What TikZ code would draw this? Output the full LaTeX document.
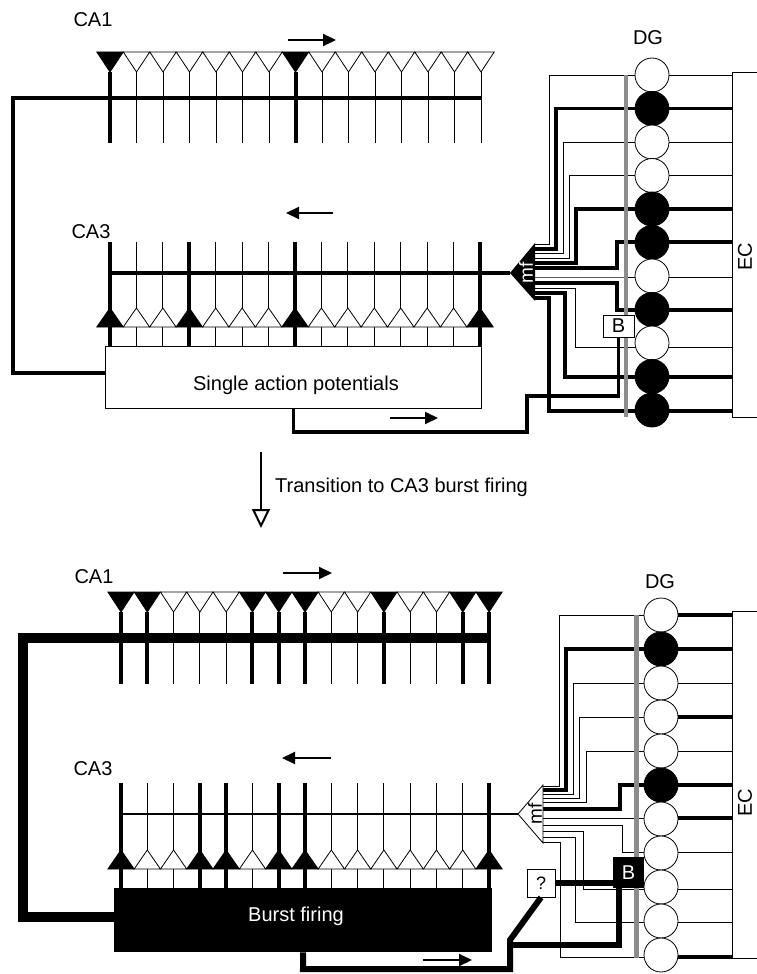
\documentclass[tikz,border=0pt]{standalone}
\usepackage{fontspec}
\setmainfont{Liberation Sans}
\usetikzlibrary{arrows.meta}
\tikzset{
  cell f/.style={draw=black, fill=black, line width=0.8pt},
  cell o/.style={draw=black, fill=white, line width=0.8pt},
  stem f/.style={line width=4pt},
  stem o/.style={line width=0.9pt},
  wire f/.style={line width=3.4pt},
  wire o/.style={line width=0.8pt},
  dir arrow/.style={line width=2pt, -{Triangle[length=13pt, width=12pt]}},
  lbl/.style={font=\fontsize{20}{24}\selectfont, inner sep=0pt, anchor=base},
  band/.style={line width=3.5pt, black!45},
}
\begin{document}
\begin{tikzpicture}[x=1pt, y=-1pt]
  \useasboundingbox (0,0) rectangle (757,974);

  % single action potentials
  \node[lbl] (ca1a) at (93,27) {CA1};
  \node[lbl] (ca3a) at (91,238) {CA3};
  \draw[dir arrow] (288,40) -- (336,40);
  \draw[dir arrow] (333,213) -- (286,213);
  \coordinate (mfA) at (510,273);
  \draw[line width=3.5pt] (110,273) -- (mfA);
  \foreach \s [count=\i from 0] in {f,o,o,o,o,o,o,f,o,o,o,o,o,o,o} {
    \pgfmathsetmacro\xx{110+26.5*\i}
    \draw[stem \s] (\xx,72) -- (\xx,143);
    \draw[cell \s] (\xx-13.2,52) -- (\xx+13.2,52) -- (\xx,72) -- cycle;
  }
  \foreach \s [count=\i from 0] in {f,o,o,f,o,o,o,f,o,o,o,o,o,o,f} {
    \pgfmathsetmacro\xx{110+26.43*\i}
    \draw[stem \s] (\xx,242) -- (\xx,346);
    \draw[cell \s] (\xx-13.2,327) -- (\xx+13.2,327) -- (\xx,308) -- cycle;
  }
  \node[draw, fill=white, line width=0.8pt, minimum width=376pt, minimum height=62pt,
        inner sep=0pt, anchor=north west] (sap) at (105,346) {};
  \node[lbl] at (296,390) {Single action potentials};
  \draw[line width=3.5pt] (481,98) -- (13,98) -- (13,373) -- (sap.west |- 0,373);

  \foreach \s/\ec/\my/\rx/\wy [count=\i from 0] in {o/o/244/549/75, f/f/249/556/108.5,
      o/o/253.5/563/142, o/o/258/569/175, f/f/263/576/209, f/f/268/617/242,
      o/o/277/600/277, f/f/283/617/310, o/o/288/575/347, f/f/293/565/377, f/f/298/549/411} {
    \draw[wire \s] (535,\my) -- (\rx,\my) -- (\rx,\wy) -- (652,\wy);
    \draw[wire \ec] (652,\wy) -- (732,\wy);
  }
  \draw[band] (626,75) -- (626,417);
  \foreach \s [count=\i from 0] in {o,f,o,o,f,f,o,f,o,f,f}
    \node[circle, cell \s, minimum size=34pt, inner sep=0pt] (dgA\i) at (652,75+33.5*\i) {};
  \node[lbl] (dga) at (648,45) {DG};
  \draw[line width=0.8pt] (757,72) -- (732,72) -- (732,417) -- (757,417);
  \node[lbl, anchor=center, rotate=90] (eca) at (745,257) {EC};

  \fill (mfA) -- (535,243) -- (535,301) -- cycle;
  \node[rotate=90, text=white, inner sep=0pt, font=\fontsize{19}{20}\selectfont] (mfa) at (526,273) {mf};
  \node[draw, fill=white, line width=0.8pt, minimum width=31pt, minimum height=22pt,
        inner sep=0pt, font=\fontsize{20}{22}\selectfont] (bA) at (618.5,326) {B};
  \draw[line width=3.4pt] (sap.south) -- ++(0,23) -| (527,396) -| (bA.south);
  \draw[dir arrow] (390,418) -- (438,418);

  % transition
  \draw[line width=2pt, -{Triangle[open, length=19pt, width=18pt, fill=white]}] (261,452) -- (261,528);
  \node[lbl, anchor=base west] (trans) at (275,492) {Transition to CA3 burst firing};

  % burst firing
  \node[lbl] (ca1b) at (94,583) {CA1};
  \node[lbl] (ca3b) at (93,775) {CA3};
  \draw[dir arrow] (283,573) -- (332,573);
  \draw[dir arrow] (331,758) -- (282,758);
  \coordinate (mfB) at (518,814);
  \draw[line width=1.5pt] (121,814) -- (mfB);
  \foreach \s [count=\i from 0] in {f,f,o,o,o,f,f,f,o,o,f,o,o,f,f} {
    \pgfmathsetmacro\xx{121+26.29*\i}
    \draw[stem \s, stem f/.style={line width=5pt}] (\xx,612) -- (\xx,684);
    \draw[cell \s] (\xx-13.1,592) -- (\xx+13.1,592) -- (\xx,612) -- cycle;
  }
  \foreach \s [count=\i from 0] in {f,o,o,f,f,o,f,f,o,o,o,o,o,o,f} {
    \pgfmathsetmacro\xx{121+26.29*\i}
    \draw[stem \s, stem f/.style={line width=4.5pt}] (\xx,783) -- (\xx,888);
    \draw[cell \s] (\xx-13.1,869) -- (\xx+13.1,869) -- (\xx,850) -- cycle;
  }
  \node[fill=black, minimum width=378pt, minimum height=64pt, inner sep=0pt,
        anchor=north west] (bf) at (114,888) {};
  \node[lbl, text=white] at (296,921) {Burst firing};
  \draw[line width=10pt] (489,638) -- (23,638) -- (23,917) -- (bf.west |- 0,917);

  \foreach \s/\ec/\my/\rx/\wy [count=\i from 0] in {o/f/786/559/615, f/f/790/566/649,
      o/o/794/573/683, o/f/798/579/717, o/o/802/586/751, f/f/809/620/785,
      o/f/818/600/818, o/o/825/622/852, o/o/831/583/889, o/o/837/575/922, o/f/842/560/957} {
    \draw[wire \s] (543,\my) -- (\rx,\my) -- (\rx,\wy) -- (661,\wy);
    \draw[wire \ec] (661,\wy) -- (732,\wy);
  }
  \draw[band, line width=5pt] (636,615) -- (636,958);
  \foreach \s [count=\i from 0] in {o,f,o,o,o,f,o,o,o,o,o}
    \node[circle, cell \s, minimum size=34pt, inner sep=0pt] (dgB\i) at (661,615+34*\i) {};
  \node[lbl] (dgb) at (660,588) {DG};
  \draw[line width=0.8pt] (757,611) -- (732,611) -- (732,958) -- (757,958);
  \node[lbl, anchor=center, rotate=90] (ecb) at (745,803) {EC};

  \draw[cell o] (mfB) -- (543,785) -- (543,843) -- cycle;
  \node[rotate=90, inner sep=0pt, font=\fontsize{19}{20}\selectfont] (mfb) at (535,814) {mf};
  \node[fill=black, text=white, minimum width=31pt, minimum height=31pt, inner sep=0pt,
        font=\fontsize{20}{22}\selectfont] (bB) at (628.5,872.5) {B};
  \node[draw, fill=white, line width=0.8pt, minimum width=28pt, minimum height=28pt,
        inner sep=0pt, font=\fontsize{18}{20}\selectfont] (qB) at (541,883) {?};
  \draw[line width=6pt] (qB.east) -- (qB.east -| bB.west);
  \draw[line width=6pt] (bf.south) -- (303,969) -- (510,969) -- (510,940) -- (qB.south);
  \draw[line width=6pt] (510,945) -- (619,945) -- (bB.south -| 619,0);
  \draw[dir arrow] (423,960) -- (472,960);
\end{tikzpicture}
\end{document}
